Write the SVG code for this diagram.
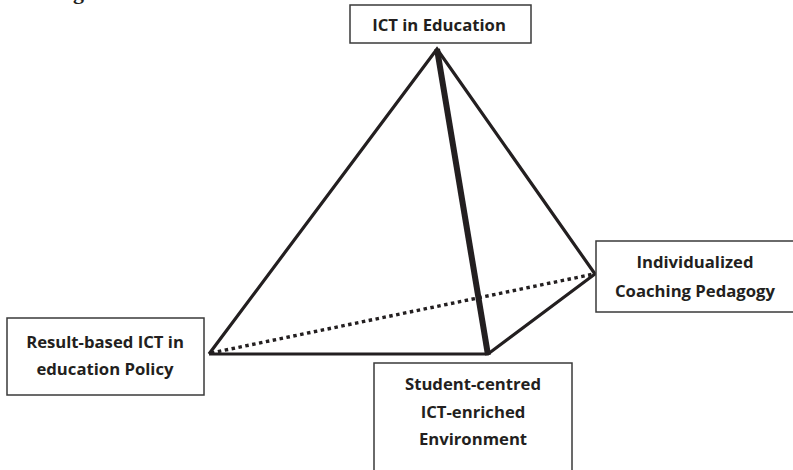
<svg xmlns="http://www.w3.org/2000/svg" width="793" height="470" viewBox="0 0 793 470">
  <style>
    .box { fill: #ffffff; stroke: #3a3a3a; stroke-width: 1.5; }
    .label { font-family: "Open Sans", "Liberation Sans", sans-serif; font-weight: 700; font-size: 16.7px; fill: #231f20; text-anchor: middle; }
    .edge { stroke: #231f20; stroke-width: 3.2; fill: none; stroke-linejoin: miter; }
    .spine { stroke: #231f20; stroke-width: 6; fill: none; }
    .hidden-edge { stroke: #231f20; stroke-width: 3.4; stroke-dasharray: 3.5 3.5; fill: none; }
  </style>
  <rect width="793" height="470" fill="#ffffff"/>

  <!-- clipped heading fragment at the top edge -->
  <text x="73" y="-1" font-family="'Liberation Serif', serif" font-weight="700" font-size="22" fill="#231f20">g</text>

  <!-- pyramid edges -->
  <g id="connectors">
    <line class="hidden-edge" x1="211" y1="353" x2="594" y2="274"/>
    <polyline class="edge" points="209,354 437,49 595,274 488,354 209,354"/>
    <line class="spine" x1="437" y1="49" x2="488" y2="355"/>
  </g>

  <g id="node-ict-education">
    <rect class="box" x="350" y="5" width="181" height="38"/>
    <text class="label" x="439" y="31">ICT in Education</text>
  </g>

  <g id="node-coaching-pedagogy">
    <rect class="box" x="596" y="241" width="205" height="71"/>
    <text class="label" x="695" y="268">Individualized</text>
    <text class="label" x="695" y="297">Coaching Pedagogy</text>
  </g>

  <g id="node-result-policy">
    <rect class="box" x="7" y="318" width="197" height="77"/>
    <text class="label" x="105" y="348">Result-based ICT in</text>
    <text class="label" x="105" y="375">education Policy</text>
  </g>

  <g id="node-student-centred">
    <rect class="box" x="374" y="363" width="198" height="115"/>
    <text class="label" x="473" y="390">Student-centred</text>
    <text class="label" x="473" y="418">ICT-enriched</text>
    <text class="label" x="473" y="445">Environment</text>
  </g>
</svg>
